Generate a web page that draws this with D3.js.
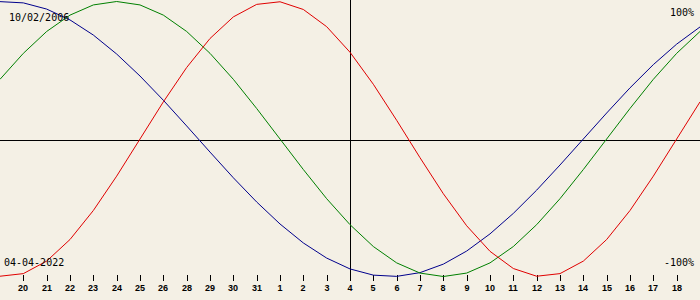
<!DOCTYPE html>
<html>
<head>
<meta charset="utf-8">
<script src="https://cdn.jsdelivr.net/npm/d3@7"></script>
<style>
  html, body { margin: 0; padding: 0; background: #f4f0e5; }
  svg { display: block; }
  text { fill: #000; }
</style>
</head>
<body>
<svg id="chart" width="700" height="300"></svg>
<script>
// Day labels for ticks (as printed on the chart)
const tickLabels = ["20","21","22","23","24","25","26","28","29","30","31",
  "1","2","3","4","5","6","7","8","9","10","11","12","13","14","15","16","17","18"];
// Index of the current day (vertical marker)
const todayIndex = 15;
const birthLabel = "10/02/2006";
const dateLabel = "04-04-2022";
const topLabel = "100%";
const bottomLabel = "-100%";

// Physical (23-day) cycle, red
const physical = [-0.998,-0.979,-0.888,-0.731,-0.520,-0.270,0,0.270,0.520,0.731,0.888,
  0.979,0.998,0.942,0.817,0.631,0.398,0.136,-0.136,-0.398,-0.631,-0.817,-0.942,-0.998,
  -0.979,-0.888,-0.731,-0.520,-0.270,0,0.270];
// Emotional (28-day) cycle, green
const emotional = [0.434,0.623,0.782,0.901,0.975,1,0.975,0.901,0.782,0.623,0.434,
  0.222,0,-0.222,-0.434,-0.623,-0.782,-0.901,-0.975,-1,-0.975,-0.901,-0.782,-0.623,
  -0.434,-0.222,0,0.222,0.434,0.623,0.782];
// Intellectual (33-day) cycle, blue
const intellectual = [0.999,0.990,0.945,0.866,0.756,0.618,0.458,0.282,0.095,-0.095,-0.282,
  -0.458,-0.618,-0.756,-0.866,-0.945,-0.990,-0.999,-0.972,-0.910,-0.815,-0.690,-0.541,
  -0.372,-0.189,0,0.189,0.372,0.541,0.690,0.815];

const series = [
  {values: intellectual, color: "#00008c"},
  {values: emotional, color: "#008000"},
  {values: physical, color: "#e00000"}
];

const W = 700, H = 300;
const svg = d3.select("#chart");
const x = d3.scaleLinear().domain([0, physical.length - 1]).range([0, W]);
const y = d3.scaleLinear().domain([-1, 1]).range([276.5, 1.5]);

// zero line
svg.append("line")
  .attr("x1", 0).attr("x2", W)
  .attr("y1", y(0) + 1.5).attr("y2", y(0) + 1.5)
  .attr("stroke", "#000").attr("stroke-width", 1)
  .attr("shape-rendering", "crispEdges");

// today line
svg.append("line")
  .attr("x1", Math.round(x(todayIndex)) + 0.5).attr("x2", Math.round(x(todayIndex)) + 0.5)
  .attr("y1", 0).attr("y2", 281)
  .attr("stroke", "#000").attr("stroke-width", 1)
  .attr("shape-rendering", "crispEdges");

// ticks
const tickG = svg.append("g");
tickLabels.forEach((lab, i) => {
  const k = i + 1;
  const px = Math.round(x(k)) + 0.5;
  tickG.append("line")
    .attr("x1", px).attr("x2", px).attr("y1", 275).attr("y2", 281)
    .attr("stroke", "#000").attr("stroke-width", 1)
    .attr("shape-rendering", "crispEdges");
  tickG.append("text")
    .attr("x", px - 0.5).attr("y", 291)
    .attr("text-anchor", "middle")
    .attr("font-family", "'Liberation Sans', Arial, sans-serif")
    .attr("font-size", "9px").attr("font-weight", "bold")
    .text(lab);
});

// curves
const line = d3.line().x((d, i) => x(i)).y(d => y(d));
series.forEach(s => {
  svg.append("path")
    .datum(s.values)
    .attr("d", line)
    .attr("fill", "none")
    .attr("stroke", s.color)
    .attr("stroke-width", 1);
});

// labels
const mono = "'DejaVu Sans Mono', 'Liberation Mono', monospace";
svg.append("text").attr("x", 9).attr("y", 21).attr("font-family", mono)
  .attr("font-size", "10px").text(birthLabel);
svg.append("text").attr("x", 4).attr("y", 266).attr("font-family", mono)
  .attr("font-size", "10px").text(dateLabel);
svg.append("text").attr("x", 694).attr("y", 16).attr("font-family", mono)
  .attr("font-size", "10px").attr("text-anchor", "end").text(topLabel);
svg.append("text").attr("x", 694).attr("y", 266).attr("font-family", mono)
  .attr("font-size", "10px").attr("text-anchor", "end").text(bottomLabel);
</script>
</body>
</html>
